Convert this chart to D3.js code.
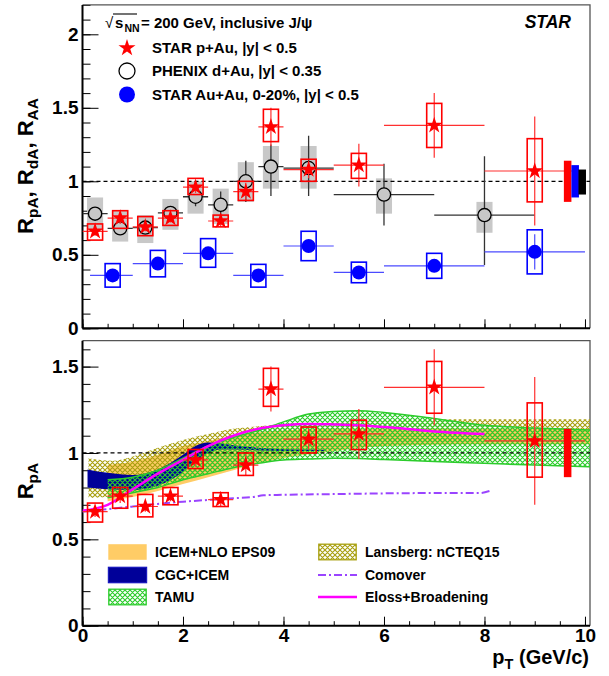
<!DOCTYPE html>
<html>
<head>
<meta charset="utf-8">
<script src="https://cdn.jsdelivr.net/npm/d3@7"></script>
<style>
body { margin: 0; background: #fff; }
svg text { font-family: "Liberation Sans", Arial, Helvetica, sans-serif; font-weight: bold; }
</style>
</head>
<body>
<div id="chart"></div>
<script>
// ---- data ----
// STAR p+Au, |y| < 0.5
var pauPt    = [0.25, 0.75, 1.25, 1.75, 2.25, 2.75, 3.25, 3.75, 4.5, 5.5, 7, 9];
var pauBinLo = [0, 0.5, 1, 1.5, 2, 2.5, 3, 3.5, 4, 5, 6, 8];
var pauBinHi = [0.5, 1, 1.5, 2, 2.5, 3, 3.5, 4, 5, 6, 8, 10];
var pauVal   = [0.66, 0.75, 0.69, 0.75, 0.96, 0.73, 0.93, 1.37, 1.08, 1.11, 1.38, 1.07];
var pauStat  = [0.03, 0.04, 0.03, 0.03, 0.04, 0.04, 0.06, 0.13, 0.06, 0.145, 0.22, 0.37];
var pauSysLo = [0.60, 0.68, 0.63, 0.70, 0.91, 0.69, 0.87, 1.27, 1.00, 1.02, 1.23, 0.86];
var pauSysHi = [0.71, 0.80, 0.76, 0.80, 1.02, 0.77, 1.00, 1.49, 1.15, 1.19, 1.53, 1.29];

// PHENIX d+Au, |y| < 0.35
var dauPt    = [0.25, 0.75, 1.25, 1.75, 2.25, 2.75, 3.25, 3.75, 4.5, 6, 8];
var dauBinLo = [0, 0.5, 1, 1.5, 2, 2.5, 3, 3.5, 4, 5, 7];
var dauBinHi = [0.5, 1, 1.5, 2, 2.5, 3, 3.5, 4, 5, 7, 9];
var dauVal   = [0.78, 0.68, 0.685, 0.785, 0.895, 0.84, 1.0, 1.10, 1.09, 0.91, 0.77];
var dauErrLo = [0.74, 0.65, 0.655, 0.755, 0.83, 0.77, 0.86, 0.90, 0.90, 0.70, 0.43];
var dauErrHi = [0.82, 0.71, 0.715, 0.815, 0.96, 0.93, 1.14, 1.25, 1.31, 1.12, 1.17];
var dauSysLo = [0.67, 0.59, 0.58, 0.67, 0.78, 0.71, 0.86, 0.95, 0.95, 0.78, 0.65];
var dauSysHi = [0.89, 0.80, 0.77, 0.88, 1.00, 0.95, 1.13, 1.24, 1.24, 1.02, 0.86];

// STAR Au+Au, 0-20%, |y| < 0.5
var aaPt    = [0.6, 1.5, 2.5, 3.5, 4.5, 5.5, 7, 9];
var aaBinLo = [0.15, 1, 2, 3, 4, 5, 6, 8];
var aaBinHi = [1, 2, 3, 4, 5, 6, 8, 10];
var aaVal   = [0.36, 0.44, 0.51, 0.36, 0.56, 0.38, 0.425, 0.52];
var aaStat  = [0.02, 0.02, 0.02, 0.02, 0.03, 0.02, 0.03, 0.12];
var aaSysLo = [0.28, 0.35, 0.415, 0.28, 0.46, 0.31, 0.34, 0.37];
var aaSysHi = [0.44, 0.53, 0.61, 0.435, 0.66, 0.45, 0.51, 0.67];

// global uncertainties (p+Au, Au+Au, d+Au)
var globPt    = [9.58, 9.73, 9.87];
var globLo    = [0.86, 0.89, 0.91];
var globHi    = [1.14, 1.11, 1.08];
var globColor = ['#ff0000', '#0000ff', '#000000'];

// model calculations
var icemPt = [0.5, 1.0, 1.5, 2.0, 2.5, 3.0, 3.5, 4.0, 5.0, 6.0, 8.0, 10.1];
var icemLo = [0.72, 0.745, 0.78, 0.82, 0.86, 0.90, 0.94, 0.97, 1.01, 1.04, 1.05, 1.05];
var icemHi = [0.93, 0.95, 0.99, 1.04, 1.07, 1.10, 1.12, 1.13, 1.14, 1.14, 1.14, 1.14];

var lansPt = [0.12, 0.6, 1.0, 1.5, 2.0, 2.5, 3.0, 3.5, 4.0, 5.0, 6.0, 7.0, 8.0, 10.1];
var lansLo = [0.74, 0.75, 0.78, 0.815, 0.85, 0.89, 0.93, 0.96, 0.99, 1.02, 1.04, 1.05, 1.05, 1.05];
var lansHi = [0.97, 0.955, 0.98, 1.03, 1.075, 1.11, 1.14, 1.155, 1.165, 1.18, 1.19, 1.195, 1.195, 1.195];

var cgcPt = [0.1, 0.5, 1.0, 1.5, 2.0, 2.25, 2.5, 2.75, 3.0, 3.5, 4.0, 4.5, 4.85];
var cgcLo = [0.80, 0.79, 0.786, 0.81, 0.89, 0.95, 1.0, 1.02, 1.02, 1.015, 1.012, 1.012, 1.012];
var cgcHi = [0.905, 0.885, 0.873, 0.905, 0.99, 1.04, 1.06, 1.055, 1.045, 1.03, 1.022, 1.02, 1.018];

var tamuPt = [0.5, 1.0, 1.5, 2.0, 2.5, 3.0, 3.5, 4.0, 4.5, 5.0, 5.5, 6.0, 7.0, 8.0, 9.0, 10.1];
var tamuLo = [0.74, 0.77, 0.80, 0.845, 0.88, 0.915, 0.94, 0.96, 0.965, 0.97, 0.968, 0.962, 0.95, 0.94, 0.93, 0.92];
var tamuHi = [0.845, 0.86, 0.90, 0.97, 1.04, 1.09, 1.13, 1.18, 1.225, 1.24, 1.245, 1.235, 1.20, 1.16, 1.145, 1.133];

var comPt  = [0, 0.5, 1, 1.5, 2, 2.5, 3, 3.4, 3.6, 4, 5, 6, 7, 7.9, 8.1];
var comVal = [0.66, 0.675, 0.69, 0.705, 0.718, 0.728, 0.738, 0.745, 0.755, 0.758, 0.762, 0.766, 0.768, 0.768, 0.78];

var elPt  = [0, 0.5, 1, 1.5, 2, 2.5, 3, 3.5, 4, 4.5, 5, 5.5, 6, 7, 8];
var elVal = [0.665, 0.70, 0.79, 0.88, 0.96, 1.04, 1.10, 1.14, 1.16, 1.168, 1.165, 1.16, 1.15, 1.125, 1.11];

var topLegend = ['STAR p+Au, |y| < 0.5', 'PHENIX d+Au, |y| < 0.35', 'STAR Au+Au, 0-20%, |y| < 0.5'];
var botLegendL = ['ICEM+NLO EPS09', 'CGC+ICEM', 'TAMU'];
var botLegendR = ['Lansberg: nCTEQ15', 'Comover', 'Eloss+Broadening'];

// ---- setup ----
var W = 609, H = 676;
var svg = d3.select('#chart').append('svg').attr('width', W).attr('height', H);
var defs = svg.append('defs');

var x = d3.scaleLinear().domain([0, 10.1]).range([82.5, 590]);
var yTop = d3.scaleLinear().domain([0, 2.2]).range([328.3, 4.9]);
var yBot = d3.scaleLinear().domain([0, 1.65]).range([625.7, 340.7]);

var starSym = d3.symbol().type(d3.symbolStar).size(87);
var starSymL = d3.symbol().type(d3.symbolStar).size(90);

function addHatch(id, color, w) {
    var p = defs.append('pattern').attr('id', id)
        .attr('patternUnits', 'userSpaceOnUse')
        .attr('width', 5).attr('height', 5);
    p.append('path')
        .attr('d', 'M-1,1L1,-1M0,5L5,0M4,6L6,4M-1,4L1,6M0,0L5,5M4,-1L6,1')
        .attr('stroke', color).attr('stroke-width', w).attr('fill', 'none');
}
addHatch('hGreen', '#2ccc2c', 1.15);
addHatch('hOlive', '#a8a010', 1.15);

function addClip(id, y) {
    defs.append('clipPath').attr('id', id).append('rect')
        .attr('x', x(0)).attr('y', y.range()[1])
        .attr('width', x(10.1) - x(0)).attr('height', y.range()[0] - y.range()[1]);
}
addClip('clipTop', yTop);
addClip('clipBot', yBot);

// axes + frame
function drawFrame(y, showLabels) {
    var g = svg.append('g');
    var ymax = y.domain()[1];
    // minor ticks
    g.append('g').attr('transform', 'translate(' + x(0) + ',0)')
        .call(d3.axisLeft(y).tickValues(d3.range(0, ymax + 1e-6, 0.1)).tickSize(-8).tickFormat(''))
        .call(function(s) { s.select('.domain').remove(); s.selectAll('text').remove(); });
    g.append('g').attr('transform', 'translate(0,' + y(0) + ')')
        .call(d3.axisBottom(x).tickValues(d3.range(0, 10.01, 0.5)).tickSize(-4.5).tickFormat(''))
        .call(function(s) { s.select('.domain').remove(); s.selectAll('text').remove(); });
    // frame top/right
    g.append('path')
        .attr('d', 'M' + x(0) + ',' + y(ymax) + 'H' + x(10.1) + 'V' + y(0))
        .attr('fill', 'none').attr('stroke', '#555').attr('stroke-width', 1.3);
    // major
    var ya = g.append('g').attr('transform', 'translate(' + x(0) + ',0)')
        .call(d3.axisLeft(y).tickValues(d3.range(0, ymax + 1e-6, 0.5)).tickSize(-16).tickSizeOuter(0)
            .tickPadding(4).tickFormat(function(d) { return d3.format('')(+d.toFixed(1)); }));
    ya.attr('font-size', 19).attr('font-family', null);
    var xa = g.append('g').attr('transform', 'translate(0,' + y(0) + ')')
        .call(d3.axisBottom(x).tickValues(d3.range(0, 10.01, 2)).tickSize(-9).tickSizeOuter(0)
            .tickPadding(3).tickFormat(d3.format('d')));
    xa.attr('font-size', 19).attr('font-family', null);
    if (!showLabels) xa.selectAll('text').remove();
    // domain lines across full frame
    xa.select('.domain').attr('d', 'M' + x(0) + ',0H' + x(10.1)).attr('stroke-width', 2);
    ya.select('.domain').attr('d', 'M0,' + y(0) + 'V' + y(ymax)).attr('stroke-width', 2);
}

function unityLine(g, y) {
    g.append('line')
        .attr('x1', x(0)).attr('x2', x(10.1))
        .attr('y1', y(1)).attr('y2', y(1))
        .attr('stroke', '#000').attr('stroke-width', 1.3).attr('stroke-dasharray', '4,3');
}

function drawPAu(g, y) {
    var idx = d3.range(pauPt.length);
    g.selectAll(null).data(idx).enter().append('line')
        .attr('x1', function(i) { return x(pauBinLo[i]); })
        .attr('x2', function(i) { return x(pauBinHi[i]); })
        .attr('y1', function(i) { return y(pauVal[i]); })
        .attr('y2', function(i) { return y(pauVal[i]); })
        .attr('stroke', '#ff3030').attr('stroke-width', 1.2);
    g.selectAll(null).data(idx).enter().append('line')
        .attr('x1', function(i) { return x(pauPt[i]); })
        .attr('x2', function(i) { return x(pauPt[i]); })
        .attr('y1', function(i) { return y(pauVal[i] - pauStat[i]); })
        .attr('y2', function(i) { return y(pauVal[i] + pauStat[i]); })
        .attr('stroke', '#ff3030').attr('stroke-width', 1.2);
    g.selectAll(null).data(idx).enter().append('rect')
        .attr('x', function(i) { return x(pauPt[i] - 0.15); })
        .attr('width', function(i) { return x(0.3) - x(0); })
        .attr('y', function(i) { return y(pauSysHi[i]); })
        .attr('height', function(i) { return y(pauSysLo[i]) - y(pauSysHi[i]); })
        .attr('fill', 'none').attr('stroke', '#ff0000').attr('stroke-width', 1.6);
    g.selectAll(null).data(idx).enter().append('path')
        .attr('d', starSym)
        .attr('transform', function(i) { return 'translate(' + x(pauPt[i]) + ',' + y(pauVal[i]) + ')'; })
        .attr('fill', '#ff0000');
}

// ---- top panel ----
drawFrame(yTop, false);
var gt = svg.append('g').attr('clip-path', 'url(#clipTop)');

var dIdx = d3.range(dauPt.length);
gt.selectAll(null).data(dIdx).enter().append('rect')
    .attr('x', function(i) { return x(dauPt[i] - 0.16); })
    .attr('width', x(0.32) - x(0))
    .attr('y', function(i) { return yTop(dauSysHi[i]); })
    .attr('height', function(i) { return yTop(dauSysLo[i]) - yTop(dauSysHi[i]); })
    .attr('fill', '#c8c8c8');
unityLine(gt, yTop);
gt.selectAll(null).data(dIdx).enter().append('line')
    .attr('x1', function(i) { return x(dauBinLo[i]); })
    .attr('x2', function(i) { return x(dauBinHi[i]); })
    .attr('y1', function(i) { return yTop(dauVal[i]); })
    .attr('y2', function(i) { return yTop(dauVal[i]); })
    .attr('stroke', '#333').attr('stroke-width', 1.3);
gt.selectAll(null).data(dIdx).enter().append('line')
    .attr('x1', function(i) { return x(dauPt[i]); })
    .attr('x2', function(i) { return x(dauPt[i]); })
    .attr('y1', function(i) { return yTop(dauErrLo[i]); })
    .attr('y2', function(i) { return yTop(dauErrHi[i]); })
    .attr('stroke', '#333').attr('stroke-width', 1.3);
gt.selectAll(null).data(dIdx).enter().append('circle')
    .attr('cx', function(i) { return x(dauPt[i]); })
    .attr('cy', function(i) { return yTop(dauVal[i]); })
    .attr('r', 6.6)
    .attr('fill', '#c8c8c8').attr('stroke', '#000').attr('stroke-width', 1.3);

var aIdx = d3.range(aaPt.length);
gt.selectAll(null).data(aIdx).enter().append('line')
    .attr('x1', function(i) { return x(aaBinLo[i]); })
    .attr('x2', function(i) { return x(aaBinHi[i]); })
    .attr('y1', function(i) { return yTop(aaVal[i]); })
    .attr('y2', function(i) { return yTop(aaVal[i]); })
    .attr('stroke', '#4b4bff').attr('stroke-width', 1.2);
gt.selectAll(null).data(aIdx).enter().append('line')
    .attr('x1', function(i) { return x(aaPt[i]); })
    .attr('x2', function(i) { return x(aaPt[i]); })
    .attr('y1', function(i) { return yTop(aaVal[i] - aaStat[i]); })
    .attr('y2', function(i) { return yTop(aaVal[i] + aaStat[i]); })
    .attr('stroke', '#4b4bff').attr('stroke-width', 1.2);
gt.selectAll(null).data(aIdx).enter().append('rect')
    .attr('x', function(i) { return x(aaPt[i] - 0.15); })
    .attr('width', x(0.3) - x(0))
    .attr('y', function(i) { return yTop(aaSysHi[i]); })
    .attr('height', function(i) { return yTop(aaSysLo[i]) - yTop(aaSysHi[i]); })
    .attr('fill', 'none').attr('stroke', '#0000ff').attr('stroke-width', 1.6);
gt.selectAll(null).data(aIdx).enter().append('circle')
    .attr('cx', function(i) { return x(aaPt[i]); })
    .attr('cy', function(i) { return yTop(aaVal[i]); })
    .attr('r', 7)
    .attr('fill', '#0000ff');

drawPAu(gt, yTop);

gt.selectAll(null).data(d3.range(globPt.length)).enter().append('rect')
    .attr('x', function(i) { return x(globPt[i]); })
    .attr('width', x(0.15) - x(0))
    .attr('y', function(i) { return yTop(globHi[i]); })
    .attr('height', function(i) { return yTop(globLo[i]) - yTop(globHi[i]); })
    .attr('fill', function(i) { return globColor[i]; });

// top legend
var hdr = svg.append('g').attr('font-size', 15);
hdr.append('text').attr('x', 105).attr('y', 28).style('font-weight', 'normal').text('\u221A');
hdr.append('line').attr('x1', 113).attr('x2', 137).attr('y1', 14).attr('y2', 14)
    .attr('stroke', '#000').attr('stroke-width', 1.1);
hdr.append('text').attr('x', 115).attr('y', 28).text('s');
hdr.append('text').attr('x', 124.5).attr('y', 31.5).attr('font-size', 10.5).text('NN');
hdr.append('text').attr('x', 141).attr('y', 28).text('= 200 GeV, inclusive J/\u03C8');

var legY = [48, 71, 94.5];
svg.append('path').attr('d', starSymL)
    .attr('transform', 'translate(127,' + legY[0] + ')').attr('fill', '#ff0000');
svg.append('circle').attr('cx', 127).attr('cy', legY[1]).attr('r', 8)
    .attr('fill', '#fff').attr('stroke', '#000').attr('stroke-width', 1.3);
svg.append('circle').attr('cx', 127).attr('cy', legY[2]).attr('r', 8).attr('fill', '#0000ff');
svg.selectAll('.tleg').data(topLegend).enter().append('text')
    .attr('x', 152).attr('y', function(d, i) { return legY[i] + 5.4; })
    .attr('font-size', 15).text(function(d) { return d; });

svg.append('text').attr('x', 571).attr('y', 28).attr('text-anchor', 'end')
    .attr('font-size', 17.5).attr('font-style', 'italic').text('STAR');

// y title top
var t1 = svg.append('text').attr('transform', 'translate(33,166) rotate(-90)')
    .attr('text-anchor', 'middle').attr('font-size', 22);
[['R', 'pA', ', '], ['R', 'dA', ', '], ['R', 'AA', null]].forEach(function(p) {
    t1.append('tspan').text(p[0]);
    t1.append('tspan').attr('font-size', 15.5).attr('dy', 5).text(p[1]);
    if (p[2]) t1.append('tspan').attr('dy', -5).text(p[2]);
});

// ---- bottom panel ----
drawFrame(yBot, true);
var gb = svg.append('g').attr('clip-path', 'url(#clipBot)');

function band(px, lo, hi) {
    return d3.area().curve(d3.curveMonotoneX)
        .x(function(i) { return x(px[i]); })
        .y0(function(i) { return yBot(lo[i]); })
        .y1(function(i) { return yBot(hi[i]); })(d3.range(px.length));
}
function curve(px, v) {
    return d3.line().curve(d3.curveMonotoneX)
        .x(function(i) { return x(px[i]); })
        .y(function(i) { return yBot(v[i]); })(d3.range(px.length));
}
gb.append('path').attr('d', band(icemPt, icemLo, icemHi)).attr('fill', '#ffcc66');
gb.append('path').attr('d', band(lansPt, lansLo, lansHi)).attr('fill', 'url(#hOlive)');
gb.append('path').attr('d', band(cgcPt, cgcLo, cgcHi)).attr('fill', '#000099');
gb.append('path').attr('d', band(tamuPt, tamuLo, tamuHi)).attr('fill', 'url(#hGreen)');
gb.append('path').attr('d', curve(tamuPt, tamuHi)).attr('fill', 'none').attr('stroke', '#2ccc2c').attr('stroke-width', 1.5);
gb.append('path').attr('d', curve(tamuPt, tamuLo)).attr('fill', 'none').attr('stroke', '#2ccc2c').attr('stroke-width', 1.5);
unityLine(gb, yBot);
gb.append('path').attr('d', curve(comPt, comVal)).attr('fill', 'none')
    .attr('stroke', '#9a44ff').attr('stroke-width', 2).attr('stroke-dasharray', '8,3,2,3');
gb.append('path').attr('d', curve(elPt, elVal)).attr('fill', 'none')
    .attr('stroke', '#ff00ff').attr('stroke-width', 2.5);

drawPAu(gb, yBot);
gb.append('rect')
    .attr('x', x(globPt[0])).attr('width', x(0.15) - x(0))
    .attr('y', yBot(globHi[0])).attr('height', yBot(globLo[0]) - yBot(globHi[0]))
    .attr('fill', globColor[0]);

// bottom legend
var bLegY = [552, 575, 597];
var sw = svg.append('g');
sw.append('rect').attr('x', 108.3).attr('y', bLegY[0] - 7.8).attr('width', 38.4).attr('height', 15.6).attr('fill', '#ffcc66');
sw.append('rect').attr('x', 108.3).attr('y', bLegY[1] - 7.8).attr('width', 38.4).attr('height', 15.6)
    .attr('fill', '#000099').attr('stroke', '#1010c0').attr('stroke-width', 1);
sw.append('rect').attr('x', 108.8).attr('y', bLegY[2] - 7.8).attr('width', 37.4).attr('height', 15.6)
    .attr('fill', 'url(#hGreen)').attr('stroke', '#2ccc2c').attr('stroke-width', 1.3);
sw.append('rect').attr('x', 318.8).attr('y', bLegY[0] - 7.8).attr('width', 37.4).attr('height', 15.6)
    .attr('fill', 'url(#hOlive)').attr('stroke', '#a8a010').attr('stroke-width', 1.3);
sw.append('line').attr('x1', 318).attr('x2', 357).attr('y1', bLegY[1]).attr('y2', bLegY[1])
    .attr('stroke', '#9a44ff').attr('stroke-width', 2).attr('stroke-dasharray', '8,3,2,3');
sw.append('line').attr('x1', 318).attr('x2', 357).attr('y1', bLegY[2]).attr('y2', bLegY[2])
    .attr('stroke', '#ff00ff').attr('stroke-width', 2.5);
svg.selectAll('.bl').data(botLegendL).enter().append('text')
    .attr('x', 155).attr('y', function(d, i) { return bLegY[i] + 5; })
    .attr('font-size', 14).text(function(d) { return d; });
svg.selectAll('.br').data(botLegendR).enter().append('text')
    .attr('x', 365).attr('y', function(d, i) { return bLegY[i] + 5; })
    .attr('font-size', 14).text(function(d) { return d; });

// y title bottom
var t2 = svg.append('text').attr('transform', 'translate(33,481) rotate(-90)')
    .attr('text-anchor', 'middle').attr('font-size', 22);
t2.append('tspan').text('R');
t2.append('tspan').attr('font-size', 15.5).attr('dy', 5).text('pA');

// x title
var t3 = svg.append('text').attr('x', 589).attr('y', 664).attr('text-anchor', 'end').attr('font-size', 20);
t3.append('tspan').text('p');
t3.append('tspan').attr('font-size', 14.5).attr('dy', 5).text('T');
t3.append('tspan').attr('dy', -5).text(' (GeV/c)');
</script>
</body>
</html>
